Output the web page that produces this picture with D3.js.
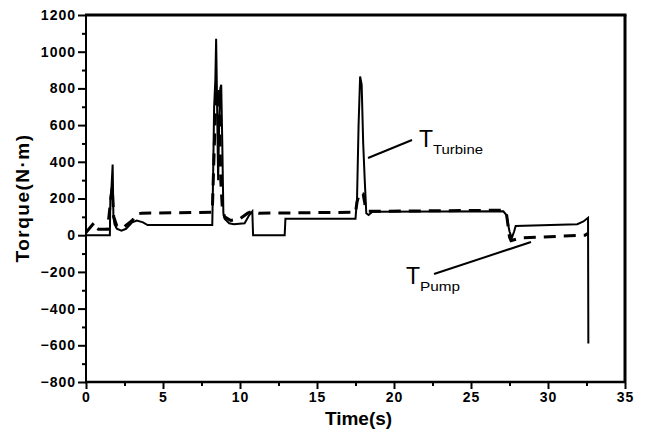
<!DOCTYPE html>
<html>
<head>
<meta charset="utf-8">
<script src="https://cdn.jsdelivr.net/npm/d3@7"></script>
<style>
  body { margin: 0; background: #fff; }
  text { font-family: "Liberation Sans", Arial, sans-serif; }
</style>
</head>
<body>
<div id="chart"></div>
<script>
var width = 646;
var height = 436;
let line_color = "#000";

// ---------------- data ----------------
let turbine_t = [0, 1.55, 1.58, 1.65, 1.73, 1.78, 1.85, 2.0, 2.3, 2.6, 3.0, 3.3, 3.7, 4.0, 8.2,
  8.25, 8.32, 8.4, 8.45, 8.5, 8.58, 8.65, 8.72, 8.78, 8.85, 8.92, 9.0, 9.3, 9.6, 10.3, 10.6, 10.8,
  10.85, 12.9, 12.95, 17.5, 17.6, 17.7, 17.8, 17.9, 18.0, 18.1, 18.2, 18.35, 18.6, 27.1, 27.3,
  27.5, 27.65, 27.8, 27.9, 31.9, 32.3, 32.6, 32.62];
let turbine_v = [0, 0, 200, 250, 385, 100, 60, 35, 25, 35, 70, 80, 70, 55, 55,
  300, 700, 850, 1070, 790, 300, 620, 800, 820, 500, 120, 90, 65, 60, 65, 110, 130,
  0, 0, 90, 90, 200, 600, 865, 820, 500, 300, 120, 110, 128, 130, 110,
  20, -15, 20, 50, 60, 75, 95, -590];

let pump_t = [0, 0.55, 0.7, 0.8, 1.4, 1.55, 1.7, 1.8, 2.0, 2.4, 3.0, 3.3, 3.6, 8.2,
  8.3, 8.45, 8.55, 8.65, 8.75, 8.85, 9.0, 9.4, 10.0, 10.5, 10.8, 11.2, 17.5, 17.6, 17.75,
  18.0, 18.15, 18.3, 27.1, 27.3, 27.5, 27.6, 27.8, 28.2, 32.4, 32.6];
let pump_v = [15, 70, 40, 33, 33, 150, 260, 100, 50, 40, 80, 115, 120, 125,
  400, 800, 700, 800, 300, 150, 100, 80, 90, 120, 130, 120, 125, 180, 230,
  225, 150, 130, 136, 120, -10, -30, -25, -15, 0, 10];

let x_ticks = [0, 5, 10, 15, 20, 25, 30, 35];
let x_minor = [2.5, 7.5, 12.5, 17.5, 22.5, 27.5, 32.5];
let y_ticks = [-800, -600, -400, -200, 0, 200, 400, 600, 800, 1000, 1200];
let y_minor = [-700, -500, -300, -100, 100, 300, 500, 700, 900, 1100];

// ---------------- svg ----------------
var svg = d3.select("#chart").append("svg")
  .attr("width", width)
  .attr("height", height)
  .style("background", "#fff");

var p_left = 86, p_right = 625, p_top = 15, p_bottom = 382;

var x = d3.scaleLinear().domain([0, 35]).range([p_left, p_right]);
var y = d3.scaleLinear().domain([-800, 1200]).range([p_bottom, p_top]);

//---------------------AXES----------------------------
var x_axis = d3.axisBottom(x)
  .tickValues(x_ticks)
  .tickFormat(d3.format("d"))
  .tickSize(7)
  .tickPadding(3);
svg.append("g").attr("id", "x_axis")
  .attr("transform", "translate(0," + p_bottom + ")")
  .call(x_axis);
svg.append("g")
  .attr("transform", "translate(0," + p_bottom + ")")
  .call(d3.axisBottom(x).tickValues(x_minor).tickSize(4).tickFormat(""));

var y_axis = d3.axisLeft(y)
  .tickValues(y_ticks)
  .tickFormat(d3.format("d"))
  .tickSize(8)
  .tickPadding(2);
svg.append("g").attr("id", "y_axis")
  .attr("transform", "translate(" + p_left + ",0)")
  .call(y_axis);
svg.append("g")
  .attr("transform", "translate(" + p_left + ",0)")
  .call(d3.axisLeft(y).tickValues(y_minor).tickSize(4).tickFormat(""));

svg.selectAll(".domain").remove();
svg.selectAll(".tick line").style("stroke", line_color).style("stroke-width", 2);
svg.selectAll(".tick text")
  .style("font-size", "14px")
  .style("font-weight", "bold")
  .style("letter-spacing", "1px")
  .style("fill", line_color);

// frame
svg.append("line").attr("x1", p_left).attr("x2", p_left).attr("y1", p_top).attr("y2", p_bottom)
  .style("stroke", line_color).style("stroke-width", 2);
svg.append("line").attr("x1", p_left - 1).attr("x2", p_right).attr("y1", p_bottom).attr("y2", p_bottom)
  .style("stroke", line_color).style("stroke-width", 2.5);
svg.append("line").attr("x1", p_left - 1).attr("x2", p_right + 1.5).attr("y1", p_top).attr("y2", p_top)
  .style("stroke", line_color).style("stroke-width", 3);
svg.append("line").attr("x1", p_right).attr("x2", p_right).attr("y1", p_top).attr("y2", p_bottom)
  .style("stroke", line_color).style("stroke-width", 3);

//---------------------CURVES----------------------------
var line = d3.line()
  .x(function(d) { return x(d[0]); })
  .y(function(d) { return y(d[1]); });

svg.append("path")
  .datum(d3.zip(pump_t, pump_v))
  .attr("d", line)
  .style("fill", "none")
  .style("stroke", line_color)
  .style("stroke-width", 3)
  .style("stroke-dasharray", "12,8");

svg.append("path")
  .datum(d3.zip(turbine_t, turbine_v))
  .attr("d", line)
  .style("fill", "none")
  .style("stroke", line_color)
  .style("stroke-width", 2);

//---------------------LABELS----------------------------
svg.append("text")
  .attr("x", (p_left + p_right) / 2 + 3)
  .attr("y", 425)
  .attr("text-anchor", "middle")
  .style("font-size", "19px")
  .style("font-weight", "bold")
  .text("Time(s)");

svg.append("text")
  .attr("transform", "translate(29,198) rotate(-90)")
  .attr("text-anchor", "middle")
  .style("font-size", "19px")
  .style("font-weight", "bold")
  .style("letter-spacing", "1.5px")
  .text("Torque(N\u00b7m)");

// annotations
function annot(tx, ty, sub, sub_len, x1, y1, x2, y2) {
  svg.append("line")
    .attr("x1", x1).attr("y1", y1).attr("x2", x2).attr("y2", y2)
    .style("stroke", line_color).style("stroke-width", 2);
  svg.append("text").attr("x", tx).attr("y", ty)
    .style("font-size", "23px").text("T");
  svg.append("text").attr("x", tx + 14).attr("y", ty + 7)
    .attr("textLength", sub_len).attr("lengthAdjust", "spacingAndGlyphs")
    .style("font-size", "12px").text(sub);
}
annot(419, 147, "Turbine", 50, 368, 158, 412, 140);
annot(406, 284, "Pump", 40, 434, 274, 531, 242);
</script>
</body>
</html>
